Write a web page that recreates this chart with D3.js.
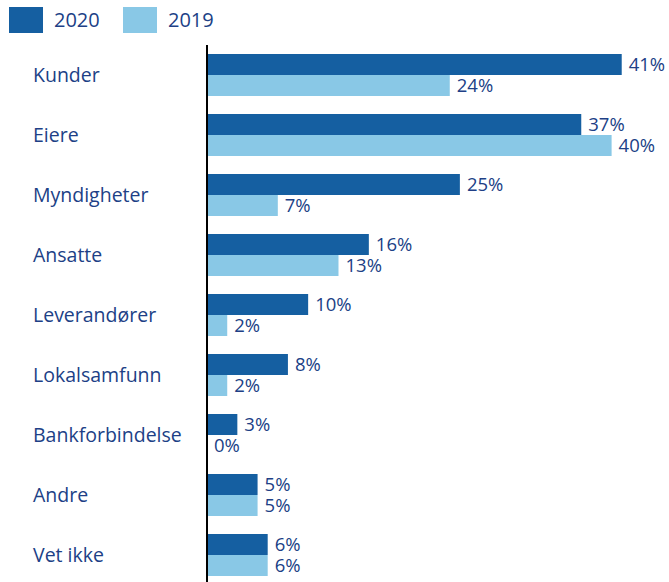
<!DOCTYPE html>
<html>
<head>
<meta charset="utf-8">
<script src="https://cdn.jsdelivr.net/npm/d3@7"></script>
<style>
  body { margin: 0; background: #fff; }
  text { font-family: "Open Sans", sans-serif; fill: #203f86; }
</style>
</head>
<body>
<script>
const categories = ["Kunder", "Eiere", "Myndigheter", "Ansatte", "Leverandører", "Lokalsamfunn", "Bankforbindelse", "Andre", "Vet ikke"];
const series = ["2020", "2019"];
const values2020 = [41, 37, 25, 16, 10, 8, 3, 5, 6];
const values2019 = [24, 40, 7, 13, 2, 2, 0, 5, 6];

const width = 669, height = 582;
const colors = {"2020": "#155fa1", "2019": "#89c8e6"};

const data = categories.map((c, i) => ({name: c, "2020": values2020[i], "2019": values2019[i]}));

const svg = d3.select("body").append("svg")
    .attr("width", width)
    .attr("height", height);

// y = ƒ(category)
const y = d3.scaleBand()
    .domain(categories)
    .range([45, 585])
    .paddingInner(0.3)
    .paddingOuter(0.15);

const y1 = d3.scaleBand()
    .domain(series)
    .range([0, y.bandwidth()]);

// x = ƒ(percent)
const x = d3.scaleLinear()
    .domain([0, 50])
    .range([207, 207 + 50 * 10.115]);

const groups = svg.append("g")
  .selectAll("g")
  .data(data)
  .join("g")
    .attr("transform", d => `translate(0,${y(d.name)})`);

groups.selectAll("rect")
  .data(d => series.map(s => ({key: s, value: d[s]})))
  .join("rect")
    .attr("x", x(0))
    .attr("y", d => y1(d.key))
    .attr("height", y1.bandwidth())
    .attr("width", d => x(d.value) - x(0))
    .attr("fill", d => colors[d.key]);

groups.selectAll("text.val")
  .data(d => series.map(s => ({key: s, value: d[s]})))
  .join("text")
    .attr("class", "val")
    .attr("x", d => x(d.value) + 7)
    .attr("y", d => y1(d.key) + y1.bandwidth() / 2)
    .attr("dy", "0.36em")
    .attr("font-size", 18.5)
    .text(d => d.value + "%");

// category labels
svg.append("g")
  .selectAll("text")
  .data(categories)
  .join("text")
    .attr("x", 33)
    .attr("y", d => y(d) + y.bandwidth() / 2)
    .attr("dy", "0.38em")
    .attr("font-size", 19.5)
    .text(d => d);

// axis line
svg.append("line")
    .attr("x1", x(0)).attr("x2", x(0))
    .attr("y1", 45).attr("y2", height)
    .attr("stroke", "#000")
    .attr("stroke-width", 2);

// legend
const legend = svg.append("g")
  .selectAll("g")
  .data(series)
  .join("g")
    .attr("transform", (d, i) => `translate(${9 + i * 114},7)`);

legend.append("rect")
    .attr("width", 34)
    .attr("height", 26)
    .attr("fill", d => colors[d]);

legend.append("text")
    .attr("x", 45)
    .attr("y", 13)
    .attr("dy", "0.37em")
    .attr("font-size", 20)
    .text(d => d);
</script>
</body>
</html>
